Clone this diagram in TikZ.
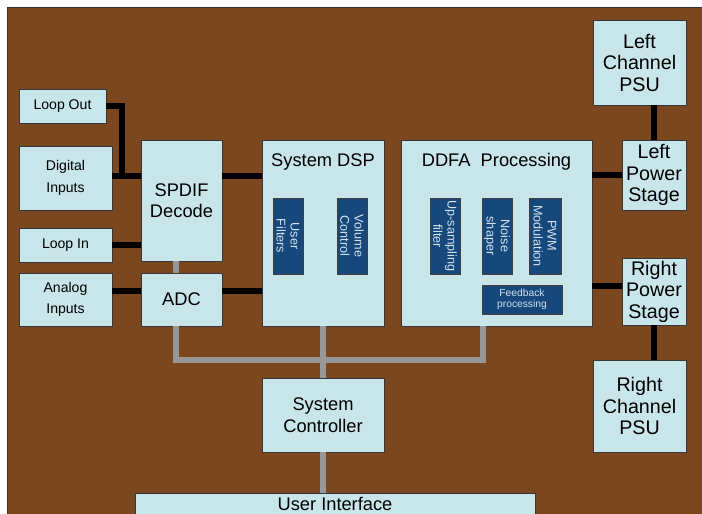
\documentclass[tikz,border=0pt]{standalone}
\usepackage{fontspec}
\setmainfont{Liberation Sans}
\definecolor{bgbrown}{RGB}{122,71,30}
\definecolor{boxfill}{RGB}{200,229,233}
\definecolor{boxline}{RGB}{55,55,55}
\definecolor{dspblue}{RGB}{22,72,124}
\definecolor{dsptext}{RGB}{210,226,240}
\definecolor{busgray}{RGB}{152,152,152}
\tikzset{
  big/.style={font=\fontsize{13}{15.3}\selectfont},
  psu/.style={font=\fontsize{14}{15.3}\selectfont},
  bus/.style={draw=busgray,line width=4.3pt}
}
\begin{document}
\begin{tikzpicture}[x=0.025cm,y=-0.025cm]

        \clip (0,0) rectangle (702,513);
        \fill[white] (0,0) rectangle (702,513);
        \filldraw[fill=bgbrown,draw=black!80,line width=0.7pt] (7,7) rectangle (720,530);

        \coordinate (spdifin) at (122,176);
        \coordinate (adcin)   at (0,291);
        \coordinate (rpsin)   at (0,286);
        \coordinate (busl)    at (176,360);
        \coordinate (busr)    at (483,360);

        \begin{scope}[every node/.style={draw=boxline,fill=boxfill,line width=0.6pt,inner sep=0pt,align=center,font=\fontsize{10}{15.3}\selectfont}]
          \node[minimum width=2.175cm,minimum height=0.85cm]  (lout)  at (62.5,106)  {Loop Out};
          \node[minimum width=2.325cm,minimum height=1.6cm]   (dig)   at (65.5,178)  {Digital\\Inputs};
          \node[minimum width=2.325cm,minimum height=0.85cm]  (lin)   at (65.5,245)  {Loop In};
          \node[minimum width=2.325cm,minimum height=1.325cm] (ain)   at (65.5,299.5) {Analog\\Inputs};
          \node[big,minimum width=2.025cm,minimum height=3.025cm] (spdif) at (181.5,200.5) {SPDIF\\Decode};
          \node[big,minimum width=2.025cm,minimum height=1.325cm] (adc)   at (181.5,299.5) {ADC};
          \node[minimum width=3.05cm,minimum height=4.65cm]   (dsp)   at (323,233)   {};
          \node[minimum width=4.775cm,minimum height=4.65cm]  (ddfa)  at (496.5,233) {};
          \node[psu,minimum width=2.325cm,minimum height=2.125cm] (lpsu) at (639.5,62.5) {Left\\Channel\\PSU};
          \node[psu,minimum width=1.6cm,minimum height=1.75cm]    (lps)  at (654,175)    {Left\\Power\\Stage};
          \node[psu,minimum width=1.6cm,minimum height=1.675cm]   (rps)  at (654,291.5)  {Right\\Power\\Stage};
          \node[psu,minimum width=2.325cm,minimum height=2.3cm]   (rpsu) at (639.5,406)  {Right\\Channel\\PSU};
          \node[big,minimum width=3.05cm,minimum height=1.85cm]   (ctrl) at (323,415)    {System\\Controller};
          \node[big,anchor=north,minimum width=10cm,text height=12pt,text depth=20pt] (ui) at (335,493) {User Interface};
        \end{scope}

        \node[big] (dsptitle)  at (dsp.north |- 0,162)  {System DSP};
        \node[big] (ddfatitle) at (ddfa.north |- 0,162) {DDFA\ \ Processing};

        \begin{scope}[every node/.style={draw=black!75,fill=dspblue,text=dsptext,line width=0.5pt,inner sep=0pt,align=center,font=\fontsize{9}{10}\selectfont}]
          \node[rotate=-90,minimum width=1.9cm,minimum height=0.75cm] (uf)  at (288,236) {User\\Filters};
          \node[rotate=-90,minimum width=1.9cm,minimum height=0.75cm] (vc)  at (352,236) {Volume\\Control};
          \node[rotate=-90,minimum width=1.9cm,minimum height=0.75cm] (ups) at (445,236) {Up-sampling\\filter};
          \node[rotate=-90,minimum width=1.9cm,minimum height=0.75cm] (ns)  at (497,236) {Noise\\shaper};
          \node[rotate=-90,minimum width=1.9cm,minimum height=0.8cm]  (pwm) at (545,236) {PWM\\Modulation};
          \node[minimum width=2cm,minimum height=0.725cm,font=\fontsize{7.3}{8.3}\selectfont] (fb) at (522,299.5) {Feedback\\processing};
        \end{scope}

        \begin{scope}[every edge/.style={draw,line width=4pt}]
          \draw[line width=4pt] (lout.east) -| (spdifin);
          \path (dig.east |- spdifin)   edge (spdif.west |- spdifin);
          \path (lin.east)              edge (lin.east -| spdif.west);
          \path (ain.east |- adcin)     edge (adc.west |- adcin);
          \path (adc.east |- adcin)     edge (dsp.west |- adcin);
          \path (spdif.east |- spdifin) edge (dsp.west |- spdifin);
          \path (ddfa.east |- lps.west) edge (lps.west);
          \path (ddfa.east |- rpsin)    edge (rps.west |- rpsin);
          \path (lps.north)             edge (lps.north |- lpsu.south);
          \path (rps.south)             edge (rps.south |- rpsu.north);
        \end{scope}

        \draw[bus] (spdif.south -| busl) -- (adc.north -| busl);
        \draw[bus] (adc.south -| busl) |- (busr) -- (ddfa.south -| busr);
        \draw[bus] (dsp.south) -- (ctrl.north);
        \draw[bus] (ctrl.south) -- (ctrl.south |- ui.north);

      \end{tikzpicture}
\end{document}
